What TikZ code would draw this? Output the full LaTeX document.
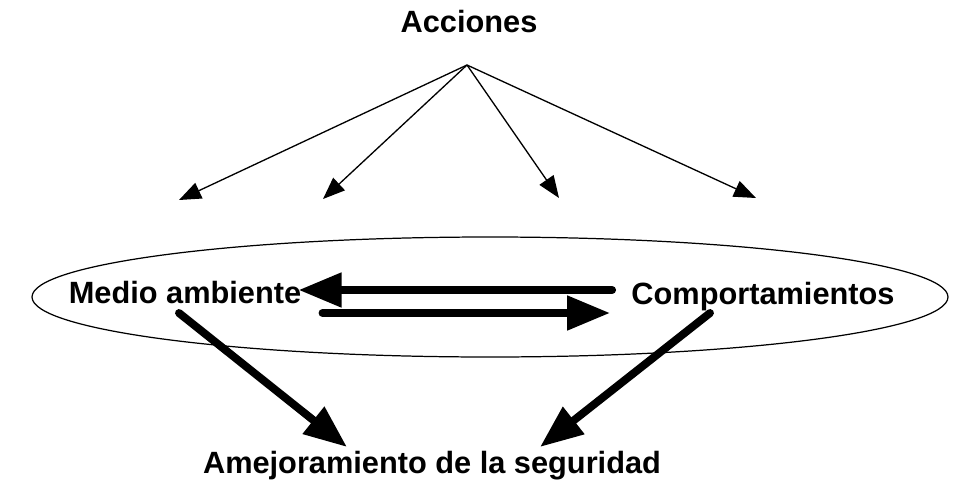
\documentclass[tikz,border=0pt]{standalone}
\usepackage{fontspec}
\setmainfont{Liberation Sans}
\usetikzlibrary{arrows.meta, calc}

\tikzset{
	lbl/.style={font=\fontsize{17.5}{20}\selectfont\bfseries, inner sep=0pt},
	thin arrow/.style={line width=0.75pt, -{Triangle[length=0.44cm, width=0.34cm]}},
	thick arrow/.style={line width=4.5pt, line cap=round, -{Triangle[length=0.86cm, width=0.66cm]}}
}

\begin{document}
\begin{tikzpicture}[x=0.02cm, y=-0.02cm]
			\useasboundingbox (0, 0) rectangle (958, 484);
			
			\draw[line width=0.7pt] (490, 297) ellipse [x radius=458, y radius=60];
			
			\node[lbl] (acciones) at (469, 22) {Acciones};
			\node[lbl] (medio) at (185, 293) {Medio ambiente};
			\node[lbl] (comp) at (763, 297) {Comportamientos};
			\node[lbl] (mejora) at (432, 466) {Amejoramiento de la seguridad};
			
			\coordinate (apex) at (467, 65);
			\coordinate (t1) at (179, 200);
			\coordinate (t2) at (323, 199);
			\coordinate (t3) at (559, 198);
			\coordinate (t4) at (756, 198);
			
			\foreach \t in {t1, t2, t3, t4}
				\draw[thin arrow] (apex) -- (\t);
			
			\draw[thick arrow] ($(comp.west)+(-19, -7)$) -- ($(medio.east)+(-3, -3)$);
			\draw[thick arrow] ($(medio.east)+(21, 20)$) -- ($(comp.west)+(-21, 16)$);
			
			\draw[thick arrow] ($(medio)+(-6, 20)$) -- ($(mejora)+(-85, -19)$);
			\draw[thick arrow] ($(comp)+(-53, 16)$) -- ($(mejora)+(108, -19)$);
		\end{tikzpicture}
\end{document}
